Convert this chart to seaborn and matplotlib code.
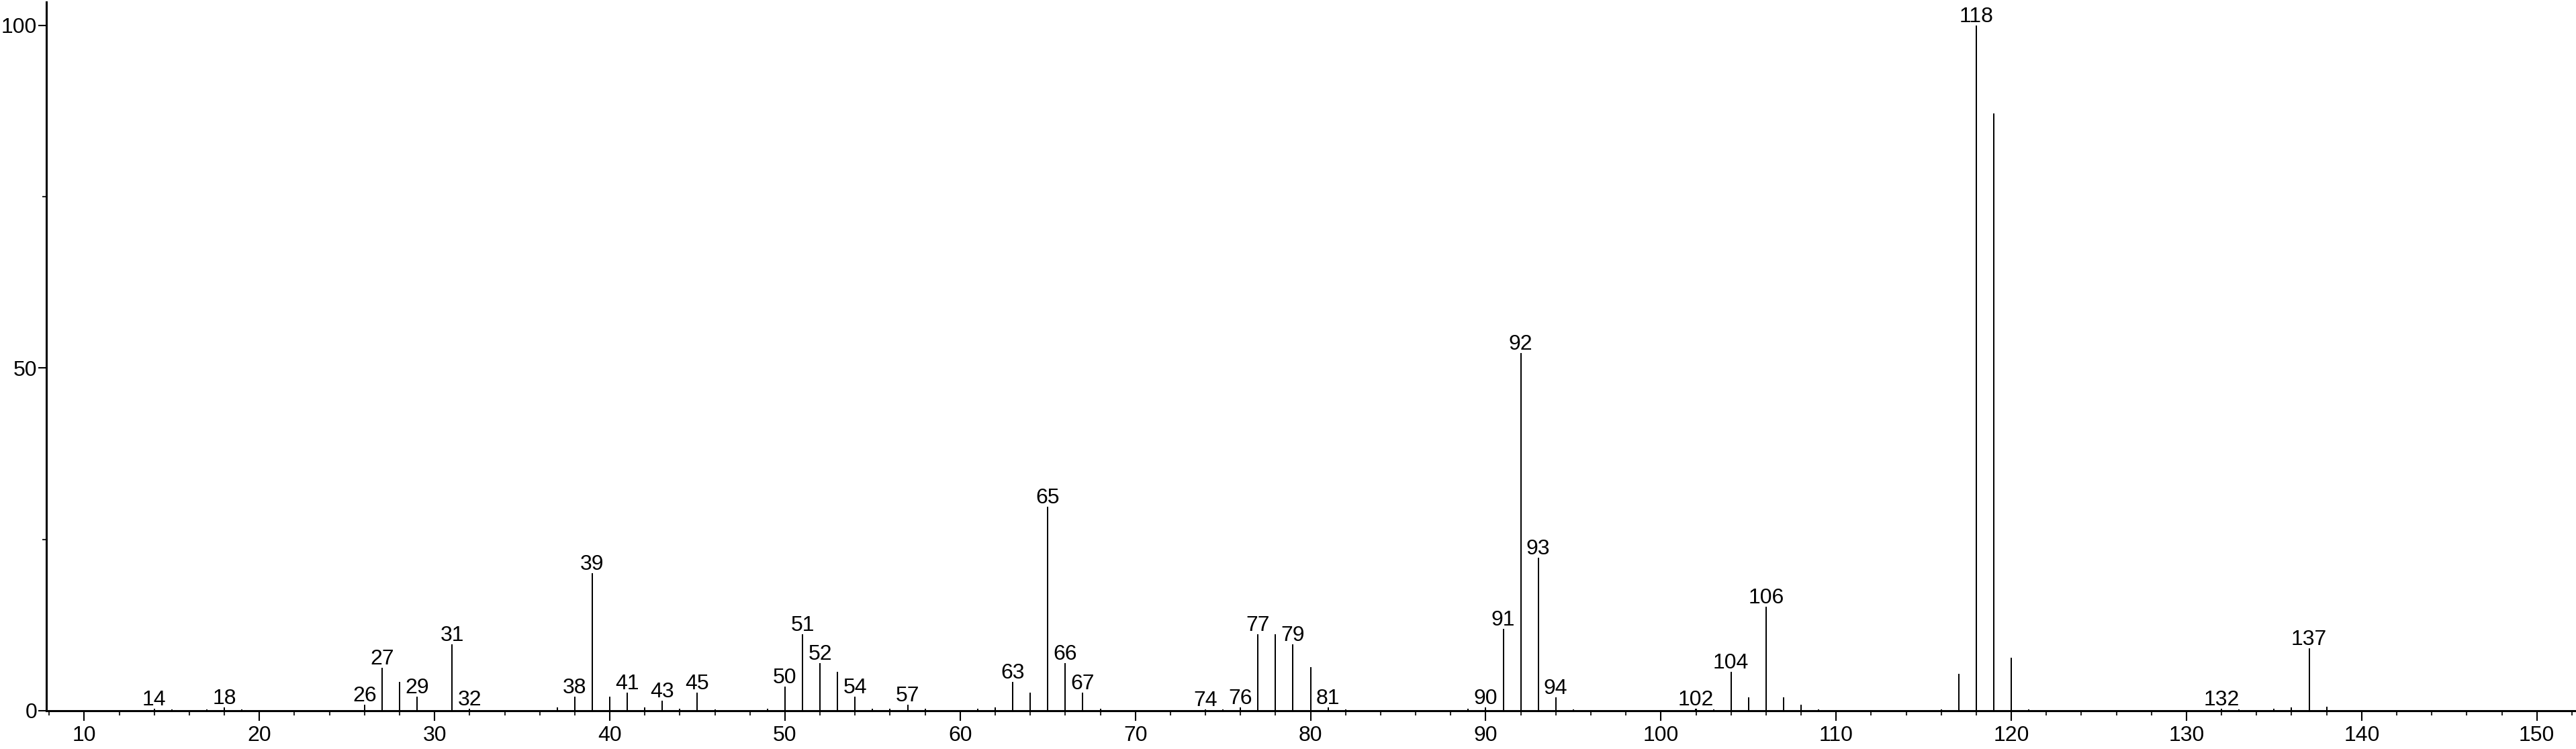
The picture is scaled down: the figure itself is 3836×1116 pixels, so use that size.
import numpy as np
import pandas as pd
import matplotlib
matplotlib.use("Agg")
import matplotlib.pyplot as plt
import seaborn as sns
from matplotlib.ticker import MultipleLocator

# --- spectrum data (m/z, relative intensity) ---
mz = [14, 15, 17, 18, 19, 26, 27, 28, 29, 31, 32, 37, 38, 39, 40, 41, 42, 43, 44, 45,
      46, 49, 50, 51, 52, 53, 54, 55, 56, 57, 58, 61, 62, 63, 64, 65, 66, 67, 68, 74,
      75, 76, 77, 78, 79, 80, 81, 82, 89, 90, 91, 92, 93, 94, 95, 102, 103, 104, 105, 106,
      107, 108, 109, 116, 117, 118, 119, 120, 121, 132, 133, 135, 136, 137, 138]
intensity = [0.3, 0.2, 0.2, 0.5, 0.2, 0.9, 6.3, 4.2, 2.1, 9.7, 0.3, 0.5, 2.1, 20.1, 2.1, 2.6, 0.5, 1.5, 0.3, 2.6,
             0.2, 0.3, 3.5, 11.2, 7.0, 5.7, 2.1, 0.3, 0.3, 0.9, 0.3, 0.3, 0.5, 4.2, 2.6, 29.8, 7.0, 2.6, 0.3, 0.2,
             0.2, 0.5, 11.2, 11.2, 9.7, 6.4, 0.5, 0.2, 0.3, 0.5, 11.9, 52.2, 22.3, 2.0, 0.2, 0.3, 0.2, 5.7, 2.0, 15.2,
             2.0, 0.85, 0.2, 0.2, 5.4, 100.0, 87.2, 7.7, 0.2, 0.3, 0.2, 0.3, 0.5, 9.1, 0.6]

# peaks that carry an m/z label
labelled = [14, 18, 26, 27, 29, 31, 32, 38, 39, 41, 43, 45, 50, 51, 52, 54, 57, 63, 65, 66,
            67, 74, 76, 77, 79, 81, 90, 91, 92, 93, 94, 102, 104, 106, 118, 132, 137]

x_ticks = [10, 20, 30, 40, 50, 60, 70, 80, 90, 100, 110, 120, 130, 140, 150]
y_ticks = [0, 50, 100]

df = pd.DataFrame({"mz": mz, "intensity": intensity})

sns.set_theme(style="ticks")
plt.rcParams["font.family"] = ["Liberation Sans", "DejaVu Sans"]

fig = plt.figure(figsize=(38.36, 11.16), dpi=100)
ax = fig.add_axes([0.01807, 0.0511, 0.9817, 0.946])

# stick spectrum: thin bars on a numeric m/z axis
sns.barplot(data=df, x="mz", y="intensity", native_scale=True, width=0.0768,
            color="black", saturation=1, linewidth=0, errorbar=None, ax=ax)

lookup = dict(zip(mz, intensity))
for m in labelled:
    ax.annotate(str(m), xy=(m, lookup[m]), xytext=(0, 5), textcoords="offset pixels",
                ha="center", va="baseline", fontsize=23, color="black")

ax.set_xlim(7.85, 152.2)
ax.set_ylim(0, 103.4)
ax.set_xticks(x_ticks)
ax.set_yticks(y_ticks)
ax.xaxis.set_minor_locator(MultipleLocator(2))
ax.yaxis.set_minor_locator(MultipleLocator(25))
ax.set_xlabel("")
ax.set_ylabel("")

for side in ["top", "right"]:
    ax.spines[side].set_visible(False)
for side in ["left", "bottom"]:
    ax.spines[side].set_linewidth(2.2)
    ax.spines[side].set_color("black")

ax.tick_params(axis="x", which="major", length=10.8, width=1.5, labelsize=23, pad=5, colors="black")
ax.tick_params(axis="x", which="minor", length=5, width=1.5)
ax.tick_params(axis="y", which="major", length=8.6, width=1.5, labelsize=23, pad=1.5, colors="black")
ax.tick_params(axis="y", which="minor", length=4.5, width=1.5)

fig.savefig("out.png", dpi=100, facecolor="white")
